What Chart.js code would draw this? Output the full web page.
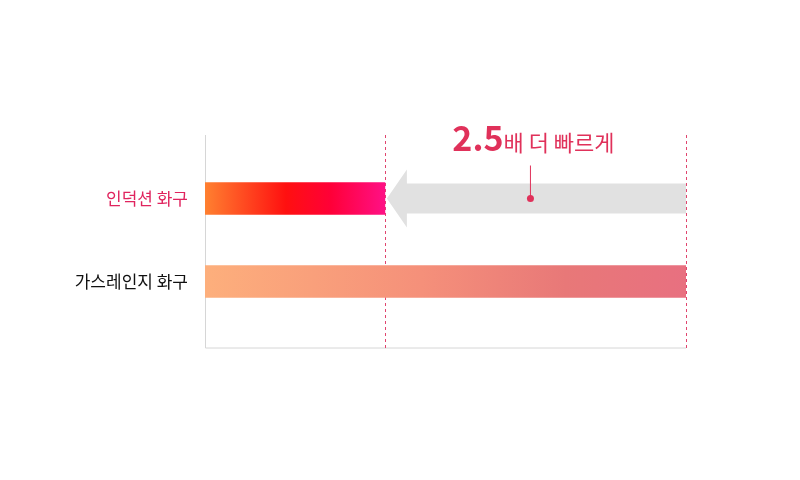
<!DOCTYPE html>
<html><head><meta charset="utf-8">
<script src="https://cdn.jsdelivr.net/npm/chart.js@4/dist/chart.umd.min.js"></script>
<style>html,body{margin:0;background:#fff}#w{width:800px;height:480px}</style>
</head><body><div id="w"><canvas id="c"></canvas></div>
<script>
const categories = ['인덕션 화구', '가스레인지 화구'];
const values = [37.4, 100];
const labelColors = ['#e0245e', '#111111'];
const annotationText = ['2.5', '배 더 빠르게'];

const deco = {
  id: 'deco',
  beforeDatasetsDraw(chart) {
    const {ctx, chartArea: a, scales: {x, y}} = chart;
    const top = a.top - 22, bot = a.bottom + 25;
    ctx.save();
    ctx.strokeStyle = '#d6d6d6'; ctx.lineWidth = 1;
    ctx.beginPath(); ctx.moveTo(a.left + 0.5, top); ctx.lineTo(a.left + 0.5, bot);
    ctx.lineTo(x.getPixelForValue(values[1]), bot); ctx.stroke();
    ctx.strokeStyle = '#e0456e'; ctx.setLineDash([3, 3]);
    [values[0], values[1]].forEach(v => {
      const px = Math.round(x.getPixelForValue(v)) + 0.5;
      ctx.beginPath(); ctx.moveTo(px, top); ctx.lineTo(px, bot); ctx.stroke();
    });
    ctx.setLineDash([]);
    // arrow
    const x0 = x.getPixelForValue(values[0]), x1 = x.getPixelForValue(values[1]);
    const cy = y.getPixelForValue(0);
    ctx.fillStyle = '#e1e1e1';
    ctx.beginPath();
    ctx.moveTo(x0 + 2, cy);
    ctx.lineTo(x0 + 22, cy - 29);
    ctx.lineTo(x0 + 22, cy - 15);
    ctx.lineTo(x1, cy - 15);
    ctx.lineTo(x1, cy + 15);
    ctx.lineTo(x0 + 22, cy + 15);
    ctx.lineTo(x0 + 22, cy + 29);
    ctx.closePath(); ctx.fill();
    // pointer
    const mx = (x0 + x1) / 2 - 5;
    ctx.strokeStyle = '#e0315a'; ctx.lineWidth = 1;
    ctx.beginPath(); ctx.moveTo(mx, cy - 33); ctx.lineTo(mx, cy); ctx.stroke();
    ctx.fillStyle = '#e0315a';
    ctx.beginPath(); ctx.arc(mx, cy, 3.5, 0, Math.PI * 2); ctx.fill();
    // annotation text
    ctx.textBaseline = 'alphabetic';
    ctx.font = 'bold 34px "Noto Sans CJK KR", "Noto Sans"';
    const w1 = ctx.measureText(annotationText[0]).width;
    ctx.font = '22px "Noto Sans CJK KR"';
    const w2 = ctx.measureText(annotationText[1]).width;
    let tx = mx - (w1 + w2) / 2 + 3;
    ctx.font = 'bold 34px "Noto Sans CJK KR", "Noto Sans"';
    ctx.fillText(annotationText[0], tx, 151);
    ctx.font = '22px "Noto Sans CJK KR"';
    ctx.fillText(annotationText[1], tx + w1, 151);
    // category labels
    ctx.font = '17px "Noto Sans CJK KR"';
    ctx.textAlign = 'right'; ctx.textBaseline = 'middle';
    categories.forEach((c, i) => {
      ctx.fillStyle = labelColors[i];
      ctx.fillText(c, a.left - 17, y.getPixelForValue(i));
    });
    ctx.restore();
  }
};

function grad(chart, i) {
  const {ctx, chartArea: a, scales: {x}} = chart;
  if (!a) return '#f55';
  const x0 = a.left, x1 = x.getPixelForValue(values[i]);
  const g = ctx.createLinearGradient(x0, 0, x1, 0);
  if (i === 0) {
    g.addColorStop(0, '#ff8030'); g.addColorStop(0.45, '#ff1010');
    g.addColorStop(0.7, '#ff0038'); g.addColorStop(1, '#ff1085');
  } else {
    g.addColorStop(0, '#fdaf7c'); g.addColorStop(0.45, '#f5907a');
    g.addColorStop(0.75, '#e87878'); g.addColorStop(1, '#e87080');
  }
  return g;
}

new Chart(document.getElementById('c'), {
  type: 'bar',
  data: { labels: categories, datasets: [{
    data: values,
    backgroundColor: c => grad(c.chart, c.dataIndex),
    barThickness: 32, borderWidth: 0
  }]},
  options: {
    indexAxis: 'y', responsive: true, maintainAspectRatio: false, animation: false,
    layout: { padding: { left: 205, right: 114, top: 157, bottom: 157 } },
    plugins: { legend: { display: false }, tooltip: { enabled: false } },
    scales: {
      x: { min: 0, max: 100, display: false },
      y: { display: false }
    }
  },
  plugins: [deco]
});
</script></body></html>
